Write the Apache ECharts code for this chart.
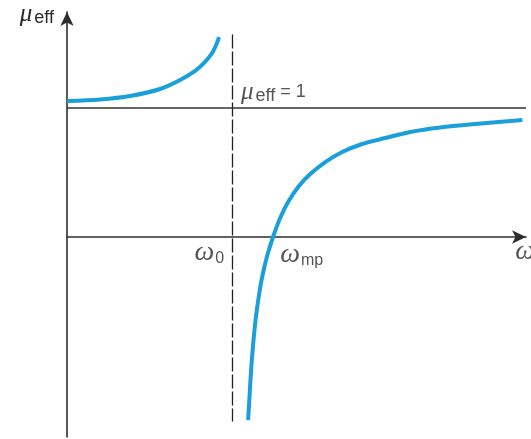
<!DOCTYPE html>
<html>
<head>
<meta charset="utf-8">
<style>html,body{margin:0;padding:0;background:#fff;}#c{width:531px;height:439px;}</style>
<script src="https://cdn.jsdelivr.net/npm/echarts@6/dist/echarts.min.js"></script>
</head>
<body>
<div id="c"></div>
<script>
// Branch below resonance (omega < omega0)
const omegaUpper = [0, 0.2, 0.382, 0.564, 0.685, 0.776, 0.836, 0.879, 0.903, 0.921];
const muUpper    = [1.054, 1.066, 1.093, 1.147, 1.217, 1.287, 1.357, 1.426, 1.488, 1.55];
// Branch above resonance (omega > omega0)
const omegaLower = [1.097, 1.106, 1.115, 1.127, 1.142, 1.161, 1.182, 1.212, 1.248, 1.291, 1.339, 1.4, 1.473, 1.564, 1.667, 1.788, 1.927, 2.079, 2.261, 2.473, 2.758];
const muLower    = [-1.419, -1.225, -1.031, -0.837, -0.643, -0.465, -0.31, -0.147, 0, 0.147, 0.271, 0.388, 0.488, 0.581, 0.659, 0.721, 0.767, 0.814, 0.849, 0.876, 0.907];
// Reference values
const omega0 = 1;
const muOne = 1;
const omegaMax = 2.78;
const muMax = 1.744;
const muMin = -1.55;
const dashTop = 1.57;
const dashBottom = -1.43;
// Annotation texts
const labelOmega0 = '{w|ω}{s|0}';
const labelOmegaMp = '{w|ω}{s|mp}';
const labelOmega = '{w|ω}';
const labelMuOne = '{m|μ}{e|eff}{t| = 1}';
const labelMuAxis = '{m|μ}{e|eff}';

const blue = '#1a9fdb';
const serifIt = {fontFamily: 'Liberation Serif', fontStyle: 'italic', color: '#2a2a2a'};
const sans = {fontFamily: 'Liberation Sans', color: '#2a2a2a'};

const richOmega = {
  w: Object.assign({fontSize: 28, lineHeight: 28, verticalAlign: 'middle'}, serifIt),
  s: Object.assign({fontSize: 16, lineHeight: 16, verticalAlign: 'bottom', padding: [10, 0, 0, 1]}, sans)
};
const richMu = {
  m: Object.assign({fontSize: 25, lineHeight: 26, verticalAlign: 'middle'}, serifIt),
  e: Object.assign({fontSize: 18, lineHeight: 17, verticalAlign: 'bottom', padding: [8, 0, 0, 2]}, sans),
  t: Object.assign({fontSize: 18, lineHeight: 22, verticalAlign: 'middle'}, sans)
};

const chart = echarts.init(document.getElementById('c'));
chart.setOption({
  animation: false,
  grid: {left: 67, right: 531 - 526, top: 12, bottom: 2, containLabel: false},
  xAxis: {
    type: 'value', min: 0, max: omegaMax,
    axisLine: {onZero: true, lineStyle: {color: '#2e2e2e', width: 1.6}, symbol: ['none', 'arrow'], symbolSize: [10, 14]},
    axisTick: {show: false}, axisLabel: {show: false}, splitLine: {show: false}
  },
  yAxis: {
    type: 'value', min: muMin, max: muMax,
    name: labelMuAxis, nameLocation: 'end', nameGap: -2,
    nameTextStyle: {align: 'right', verticalAlign: 'middle', padding: [0, 13, 0, 0], rich: richMu},
    axisLine: {onZero: false, lineStyle: {color: '#2e2e2e', width: 1.6}, symbol: ['none', 'arrow'], symbolSize: [10, 14]},
    axisTick: {show: false}, axisLabel: {show: false}, splitLine: {show: false}
  },
  series: [
    {
      type: 'line', smooth: 0.3, symbol: 'none',
      lineStyle: {color: blue, width: 4},
      data: omegaUpper.map((w, i) => [w, muUpper[i]]),
      markLine: {
        silent: true, symbol: 'none', label: {show: false},
        data: [
          [{coord: [0, muOne]}, {coord: [omegaMax, muOne]}]
        ],
        lineStyle: {color: '#333', width: 1.6, type: 'solid'}
      }
    },
    {
      type: 'line', smooth: 0.3, symbol: 'none',
      lineStyle: {color: blue, width: 4},
      data: omegaLower.map((w, i) => [w, muLower[i]]),
      markLine: {
        silent: true, symbol: 'none', label: {show: false},
        data: [
          [{coord: [omega0, dashTop]}, {coord: [omega0, dashBottom]}]
        ],
        lineStyle: {color: '#222', width: 1.3, type: [14, 3]}
      }
    },
    {
      type: 'scatter', symbolSize: 0, silent: true, clip: false,
      data: [
        {value: [0.952, -0.124], label: {formatter: labelOmega0, align: 'right'}},
        {value: [1.291, -0.14], label: {formatter: labelOmegaMp, align: 'left'}},
        {value: [2.715, -0.116], label: {formatter: labelOmega, align: 'left'}},
        {value: [1.054, 1.124], label: {formatter: labelMuOne, align: 'left', rich: richMu}}
      ],
      label: {show: true, position: 'inside', verticalAlign: 'middle', rich: richOmega}
    }
  ]
});
</script>
</body>
</html>
